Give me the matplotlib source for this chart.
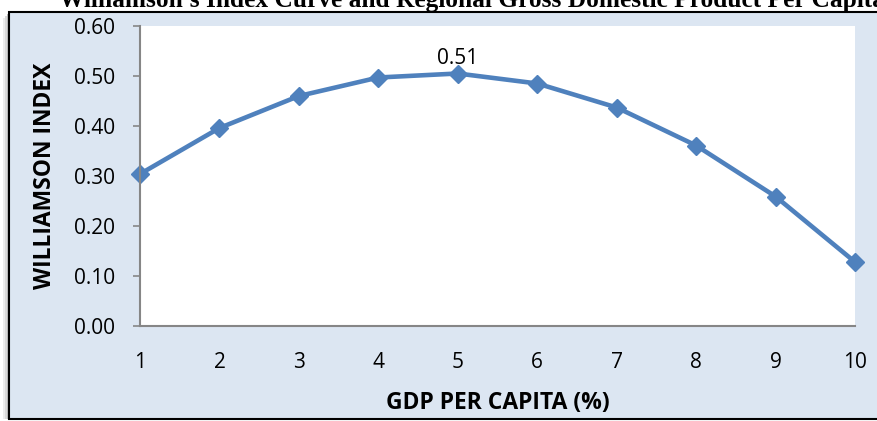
import matplotlib.pyplot as plt
from matplotlib.patches import Rectangle

# data
gdp_per_capita = [1, 2, 3, 4, 5, 6, 7, 8, 9, 10]
williamson = [0.304, 0.396, 0.460, 0.497, 0.505, 0.485, 0.437, 0.361, 0.259, 0.128]
y_ticks = [0.0, 0.1, 0.2, 0.3, 0.4, 0.5, 0.6]

W, H = 877, 421
fig = plt.figure(figsize=(W / 100, H / 100), dpi=100, facecolor='white')

# soft shadow + light blue chart frame (cut off on the right)
for off, c in [(6, '#ececec'), (4, '#d9d9d9'), (2, '#bdbdbd')]:
    fig.patches.append(Rectangle(((9 - off) / W, 2 / H), 1.2, (H - 14 - off) / H,
                                 transform=fig.transFigure, facecolor=c, edgecolor='none', zorder=-2))
fig.patches.append(Rectangle((9 / W, 2 / H), 1.2, (H - 14) / H, transform=fig.transFigure,
                             facecolor='#dce6f2', edgecolor='black', linewidth=1.5, zorder=-1))

fig.text(472 / W, 1.0, "Williamson's Index Curve and Regional Gross Domestic Product Per Capita",
         ha='center', va='center', fontsize=18.3, fontweight='bold', family='Liberation Serif')

ax = fig.add_axes([140 / W, (H - 326) / H, (855 - 140) / W, 300 / H])
ax.set_facecolor('white')
ax.plot(gdp_per_capita, williamson, color='#4f81bd', linewidth=3.3, marker='D', markersize=9.5,
        clip_on=False)
ax.annotate('0.51', (5, williamson[4]), xytext=(0, 3), textcoords='offset points',
            ha='center', va='bottom', fontsize=15, family='Open Sans')

ax.set_xlim(1, 10)
ax.set_ylim(0, 0.6)
ax.set_yticks(y_ticks)
ax.set_yticklabels([f'{v:.2f}' for v in y_ticks])
ax.set_xticks(gdp_per_capita)

for s in ['top', 'right']:
    ax.spines[s].set_visible(False)
for s in ['left', 'bottom']:
    ax.spines[s].set_color('#868686')
    ax.spines[s].set_linewidth(1.5)

ax.tick_params(axis='y', length=5, color='#868686', width=1.2, labelsize=15, pad=13)
ax.tick_params(axis='x', length=0, labelsize=15, pad=19)
for lbl in ax.get_xticklabels() + ax.get_yticklabels():
    lbl.set_family('Open Sans')

ax.set_ylabel('WILLIAMSON INDEX', fontsize=16.5, fontweight='bold', family='Open Sans', labelpad=12)
ax.set_xlabel('GDP PER CAPITA (%)', fontsize=16.5, fontweight='bold', family='Open Sans', labelpad=13)

fig.savefig('out.png', dpi=100)
